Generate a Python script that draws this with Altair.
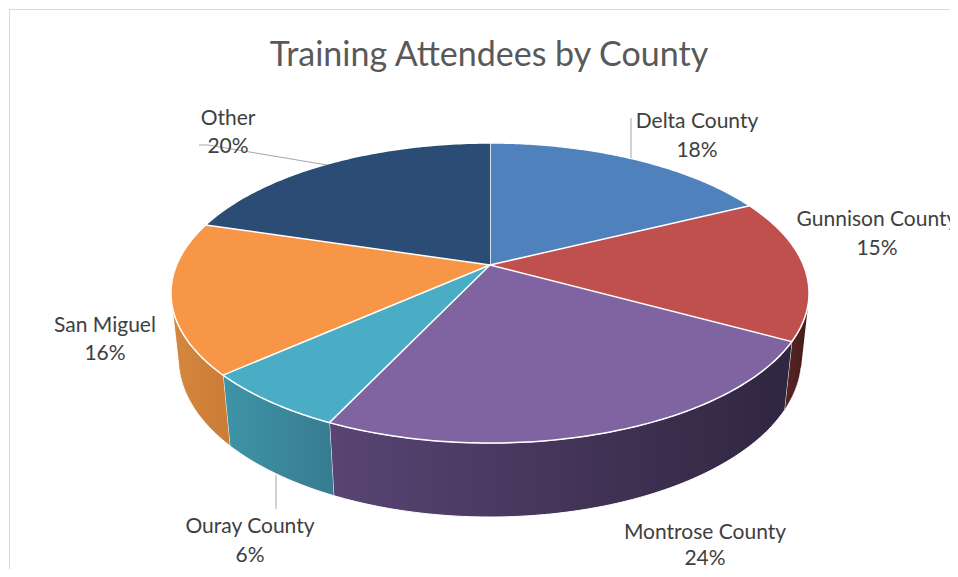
import math
import altair as alt
import pandas as pd

# ---------------- data ----------------
counties = ["Delta County", "Gunnison County", "Montrose County", "Ouray County", "San Miguel", "Other"]
shares = [17.7, 15.3, 24.0, 6.4, 16.3, 20.3]

# ---------------- styles ----------------
top_colors = ["#4F81BD", "#C0504D", "#8064A2", "#4BACC6", "#F79646", "#2B4C74"]
wall_stops = {
    "Delta County": ("#3b6190", "#2f4f78"),
    "Gunnison County": ("#5a2624", "#441b1a"),
    "Montrose County": ("#594473", "#2f2640"),
    "Ouray County": ("#3f94a7", "#377c91"),
    "San Miguel": ("#d4873f", "#cb7c36"),
    "Other": ("#22395a", "#1b2f4a"),
}
FONT = "Lato"
TEXT_COLOR = "#404040"

# ---------------- layout ----------------
W, H = 942, 561
CX, CY = 482, 257          # pie centre (plot coords)
R = 313.4                  # pie radius
SINP, COSP = 0.462, 0.887  # camera tilt
DIST = 1489                # camera distance
DEPTH = 74.4               # pie thickness
N = 90                     # points per arc
TV = math.acos(-R / (DIST * COSP))  # visible-wall limit angle

# label anchors: centre x, name baseline y, percent baseline y (plot coordinates)
label_x = [689, 869, 697, 242, 97, 220]
label_y1 = [120, 218, 531, 525, 324, 117]
label_y2 = [149, 247, 557, 554, 352, 145]

xs = alt.Scale(domain=[0, W], range=[0, W], nice=False, zero=False)
ys = alt.Scale(domain=[0, H], range=[0, H], nice=False, zero=False)

df = pd.DataFrame({"county": counties, "share": shares, "idx": list(range(len(counties)))})

base = (
    alt.Chart(df)
    .transform_window(cum="sum(share)", sort=[alt.SortField("idx")], frame=[None, 0])
    .transform_joinaggregate(total="sum(share)")
    .transform_calculate(a0="(datum.cum - datum.share) / datum.total * 2 * PI")
    .transform_calculate(a1="datum.cum / datum.total * 2 * PI")
)


def project(chart):
    return (
        chart.transform_calculate(X="datum.rr * sin(datum.th)")
        .transform_calculate(Z="datum.rr * cos(datum.th)")
        .transform_calculate(den=f"{DIST} - datum.yy * {SINP} + datum.Z * {COSP}")
        .transform_calculate(px=f"{CX} + datum.X * {DIST} / datum.den")
        .transform_calculate(py=f"{CY} - (datum.yy * {COSP} + datum.Z * {SINP}) * {DIST} / datum.den")
    )


# top faces
top = project(
    base.transform_calculate(k=f"sequence(-1, {N + 1})")
    .transform_flatten(["k"])
    .transform_calculate(th=f"datum.a0 + (datum.a1 - datum.a0) * max(datum.k, 0) / {N}")
    .transform_calculate(rr=f"datum.k < 0 ? 0 : {R}")
    .transform_calculate(yy="0")
).mark_line(filled=True, stroke="white", strokeWidth=1.5, strokeJoin="round").encode(
    x=alt.X("px:Q", scale=xs, axis=None),
    y=alt.Y("py:Q", scale=ys, axis=None),
    color=alt.Color("county:N", scale=alt.Scale(domain=counties, range=top_colors), legend=None),
    detail="county:N",
    order=alt.Order("k:Q"),
)

# visible side walls
wall_base = project(
    base.transform_calculate(b0=f"max(datum.a0, {TV})")
    .transform_calculate(b1=f"min(datum.a1, {2 * math.pi - TV})")
    .transform_filter("datum.b1 > datum.b0")
    .transform_calculate(k=f"sequence(0, {2 * N + 2})")
    .transform_flatten(["k"])
    .transform_calculate(
        th=f"datum.k <= {N} ? datum.b0 + (datum.b1 - datum.b0) * datum.k / {N} : "
        f"datum.b1 - (datum.b1 - datum.b0) * (datum.k - {N + 1}) / {N}"
    )
    .transform_calculate(rr=f"{R}")
    .transform_calculate(yy=f"datum.k <= {N} ? 0 : {-DEPTH}")
)

walls = []
for c in counties:
    c0, c1 = wall_stops[c]
    grad = alt.LinearGradient(
        gradient="linear",
        stops=[alt.GradientStop(color=c0, offset=0), alt.GradientStop(color=c1, offset=1)],
        x1=0, x2=1, y1=0, y2=0,
    )
    walls.append(
        wall_base.transform_filter(alt.datum.county == c)
        .mark_line(filled=True, fill=grad, stroke="white", strokeWidth=1, strokeJoin="round")
        .encode(
            x=alt.X("px:Q", scale=xs, axis=None),
            y=alt.Y("py:Q", scale=ys, axis=None),
            detail="county:N",
            order=alt.Order("k:Q"),
        )
    )

# labels
total = sum(shares)
pcts = [f"{round(s / total * 100)}%" for s in shares]
lab = pd.DataFrame({"name": counties, "pct": pcts, "lx": label_x, "ly1": label_y1, "ly2": label_y2})
lab_name = alt.Chart(lab).mark_text(
    font=FONT, fontSize=21, color=TEXT_COLOR, align="center", baseline="alphabetic"
).encode(x=alt.X("lx:Q", scale=xs, axis=None), y=alt.Y("ly1:Q", scale=ys, axis=None), text="name:N")
lab_pct = alt.Chart(lab).mark_text(
    font=FONT, fontSize=21, color=TEXT_COLOR, align="center", baseline="alphabetic"
).encode(x=alt.X("lx:Q", scale=xs, axis=None), y=alt.Y("ly2:Q", scale=ys, axis=None), text="pct:N")

# leader lines
leader = pd.DataFrame({
    "line": ["other", "other", "other", "delta", "delta", "ouray", "ouray"],
    "o": [0, 1, 2, 0, 1, 0, 1],
    "x": [191, 200, 319, 623, 623, 268, 268],
    "y": [137, 137, 157, 110, 150, 467, 501],
})
leaders = alt.Chart(leader).mark_line(color="#a6a6a6", strokeWidth=1).encode(
    x=alt.X("x:Q", scale=xs, axis=None),
    y=alt.Y("y:Q", scale=ys, axis=None),
    detail="line:N",
    order="o:Q",
)

title = alt.Chart(pd.DataFrame({"t": ["Training Attendees by County"]})).mark_text(
    font=FONT, fontSize=34, color="#595959", align="center", baseline="alphabetic"
).encode(x=alt.value(481), y=alt.value(58), text="t:N")

border_top = alt.Chart(pd.DataFrame({"a": [0]})).mark_rule(color="#d9d9d9", strokeWidth=1).encode(
    x=alt.value(1), x2=alt.value(W), y=alt.value(1.5)
)
border_left = alt.Chart(pd.DataFrame({"a": [0]})).mark_rule(color="#d9d9d9", strokeWidth=1).encode(
    x=alt.value(1.5), y=alt.value(1), y2=alt.value(H)
)

chart = (
    alt.layer(border_top, border_left, *walls, top, leaders, lab_name, lab_pct, title)
    .properties(width=W, height=H, padding=0, autosize=alt.AutoSizeParams(type="none"))
    .configure_view(stroke=None)
)

chart.save("out.html", embed_options={"renderer": "svg", "actions": False})
